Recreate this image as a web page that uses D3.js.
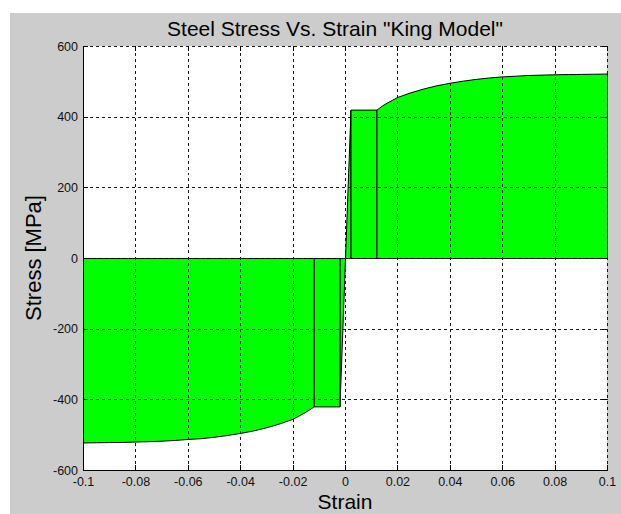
<!DOCTYPE html>
<html>
<head>
<meta charset="utf-8">
<script src="https://cdn.jsdelivr.net/npm/d3@7"></script>
<style>
  html, body { margin: 0; padding: 0; background: #ffffff; }
  svg { display: block; font-family: "Liberation Sans", Arial, sans-serif; }
</style>
</head>
<body>
<svg id="chart" width="621" height="514"></svg>
<script>
// Axis ticks
const xTicks = [-0.1, -0.08, -0.06, -0.04, -0.02, 0, 0.02, 0.04, 0.06, 0.08, 0.1];
const xTickLabels = ["-0.1", "-0.08", "-0.06", "-0.04", "-0.02", "0", "0.02", "0.04", "0.06", "0.08", "0.1"];
const yTicks = [-600, -400, -200, 0, 200, 400, 600];
const yTickLabels = ["-600", "-400", "-200", "0", "200", "400", "600"];

// Tension branch: elastic, yield plateau, strain hardening
const tensionElasticStrain = [0, 0.0021];
const tensionElasticStress = [0, 420];
const tensionPlateauStrain = [0.0021, 0.012];
const tensionPlateauStress = [420, 420];
const tensionHardeningStrain = [0.012, 0.014, 0.016, 0.018, 0.02, 0.025, 0.03, 0.035, 0.04, 0.045, 0.05,
                                0.055, 0.06, 0.065, 0.07, 0.075, 0.08, 0.085, 0.09, 0.095, 0.1];
const tensionHardeningStress = [420, 431, 440, 448, 456, 469, 480, 489, 496, 502, 507,
                                511, 514, 516, 518, 519, 520, 520.5, 521, 521.5, 522];

// Compression branch
const compressionElasticStrain = [-0.0021, 0];
const compressionElasticStress = [-420, 0];
const compressionPlateauStrain = [-0.012, -0.0021];
const compressionPlateauStress = [-420, -420];
const compressionHardeningStrain = [-0.1, -0.095, -0.09, -0.085, -0.08, -0.075, -0.07, -0.065, -0.06, -0.055, -0.05,
                                    -0.045, -0.04, -0.035, -0.03, -0.025, -0.02, -0.018, -0.016, -0.014, -0.012];
const compressionHardeningStress = [-522, -521.5, -521, -520.5, -519.5, -518.5, -517, -515, -512, -510, -506,
                                    -501, -495, -488, -479, -468, -455, -447, -439, -430, -420];

const segments = [
  [tensionElasticStrain, tensionElasticStress],
  [tensionPlateauStrain, tensionPlateauStress],
  [tensionHardeningStrain, tensionHardeningStress],
  [compressionElasticStrain, compressionElasticStress],
  [compressionPlateauStrain, compressionPlateauStress],
  [compressionHardeningStrain, compressionHardeningStress]
];

const svg = d3.select("#chart");
const W = 621, H = 514;
const mLeft = 83, mRight = 607, mTop = 46, mBottom = 470;

// figure background
svg.append("rect").attr("x", 10).attr("y", 13).attr("width", W - 10).attr("height", H - 13)
  .attr("fill", "#cccccc");

const x = d3.scaleLinear().domain([-0.1, 0.1]).range([mLeft, mRight]);
const y = d3.scaleLinear().domain([-600, 600]).range([mBottom, mTop]);

// axes background
svg.append("rect").attr("x", mLeft).attr("y", mTop).attr("width", mRight - mLeft).attr("height", mBottom - mTop)
  .attr("fill", "#ffffff");

const plot = svg.append("g").attr("transform", "translate(0.5,0.5)");

// filled stress-strain segments
const area = d3.area()
  .x(d => x(d[0]))
  .y0(y(0))
  .y1(d => y(d[1]));

segments.forEach(([eps, sig]) => {
  const pts = eps.map((e, i) => [e, sig[i]]);
  plot.append("path")
    .datum(pts)
    .attr("d", area)
    .attr("fill", "#00ff00")
    .attr("stroke", "#000000")
    .attr("stroke-width", 1);
});

// dotted grid drawn over the fill
const grid = plot.append("g").attr("stroke", "#1a1a1a").attr("stroke-width", 1)
  .attr("stroke-dasharray", "3,3").attr("shape-rendering", "crispEdges");
xTicks.slice(1).forEach(t => {
  grid.append("line").attr("x1", x(t)).attr("x2", x(t)).attr("y1", mTop).attr("y2", mBottom);
});
yTicks.slice(1).forEach(t => {
  grid.append("line").attr("x1", mLeft).attr("x2", mRight).attr("y1", y(t)).attr("y2", y(t));
});

// axes with inward ticks
const xAxis = svg.append("g").attr("transform", `translate(0,${mBottom})`)
  .call(d3.axisBottom(x).tickValues(xTicks).tickFormat((d, i) => xTickLabels[i])
    .tickSizeInner(-5).tickSizeOuter(0).tickPadding(7));
const yAxis = svg.append("g").attr("transform", `translate(${mLeft},0)`)
  .call(d3.axisLeft(y).tickValues(yTicks).tickFormat((d, i) => yTickLabels[i])
    .tickSizeInner(-5).tickSizeOuter(0).tickPadding(5));
const xAxisTop = svg.append("g").attr("transform", `translate(0,${mTop})`)
  .call(d3.axisTop(x).tickValues(xTicks).tickFormat("").tickSizeInner(-5).tickSizeOuter(0));
const yAxisRight = svg.append("g").attr("transform", `translate(${mRight},0)`)
  .call(d3.axisRight(y).tickValues(yTicks).tickFormat("").tickSizeInner(-5).tickSizeOuter(0));
xAxisTop.select(".domain").remove();
yAxisRight.select(".domain").remove();

[xAxis, yAxis, xAxisTop, yAxisRight].forEach(g => {
  g.selectAll(".domain").attr("stroke", "#000").attr("shape-rendering", "crispEdges");
  g.selectAll(".tick line").attr("stroke", "#000").attr("shape-rendering", "crispEdges");
  g.selectAll(".tick text").attr("fill", "#111").attr("font-size", 12.5)
    .attr("font-family", "'Liberation Sans', Arial, sans-serif");
});

// titles
svg.append("text").attr("x", (mLeft + mRight) / 2 - 10).attr("y", 36)
  .attr("text-anchor", "middle").attr("font-size", 21).attr("fill", "#000")
  .text('Steel Stress Vs. Strain "King Model"');
svg.append("text").attr("x", (mLeft + mRight) / 2).attr("y", 509)
  .attr("text-anchor", "middle").attr("font-size", 21).attr("fill", "#000")
  .text("Strain");
svg.append("text").attr("transform", `translate(41,${(mTop + mBottom) / 2}) rotate(-90)`)
  .attr("text-anchor", "middle").attr("font-size", 22).attr("fill", "#000")
  .text("Stress [MPa]");
</script>
</body>
</html>
